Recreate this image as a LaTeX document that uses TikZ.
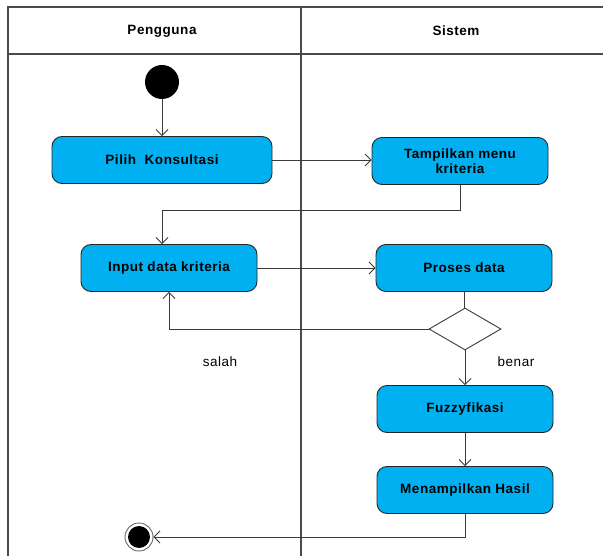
\documentclass[tikz,border=0pt]{standalone}
\usepackage{fontspec}
\setmainfont{Liberation Sans}
\newfontfamily\umlfont[LetterSpace=4]{Liberation Sans}
\usetikzlibrary{arrows.meta,positioning,shapes.geometric}
\definecolor{actfill}{HTML}{00B0F0}
\definecolor{edge}{HTML}{3A3A3A}
\definecolor{lane}{HTML}{4A4A4A}
\tikzset{
  act/.style={draw=black!85, fill=actfill, rounded corners=10pt, align=center,
              line width=0.9pt, minimum width=176pt, minimum height=47pt,
              font=\umlfont\fontsize{13.5}{15}\selectfont\bfseries},
  flow/.style={-{Straight Barb[length=6pt, width=12pt]}, line width=0.9pt, edge},
  lbl/.style={font=\umlfont\fontsize{13.5}{15}\selectfont},
  head/.style={font=\umlfont\fontsize{13.5}{15}\selectfont\bfseries},
}

\begin{document}
\begin{tikzpicture}[x=1pt, y=-1pt]
        \useasboundingbox (0,0) rectangle (603,556);
        % swimlanes
        \draw[lane, line width=1.1pt] (8,556) -- (8,7) -- (603,7);
        \draw[lane, line width=1.1pt] (8,54) -- (603,54);
        \draw[lane, line width=1.1pt] (301,7) -- (301,556);
        \node[head] (pengguna) at (162,31) {Pengguna};
        \node[head] (sistem) at (456,31) {Sistem};
        % states
        \node[circle, fill=black, minimum size=34pt, inner sep=0pt] (start) at (162,82) {};
        \node[act, minimum width=220pt] (pilih) at (162,160) {Pilih\ \ Konsultasi};
        \node[act] (tampil) at (460,161) {Tampilkan menu\\kriteria};
        \node[act] (input) at (169,268) {Input data kriteria};
        \node[act] (proses) at (464,268) {Proses data};
        \node[diamond, draw=edge, fill=white, line width=0.9pt, aspect=1.7,
              minimum width=72pt, minimum height=42pt, inner sep=0pt] (cek) at (465,329) {};
        \node[act] (fuzzy) at (465,409) {Fuzzyfikasi};
        \node[act] (hasil) at (465,490) {Menampilkan Hasil};
        \node[circle, draw=black!60, line width=0.9pt, minimum size=28pt, inner sep=0pt,
              path picture={\fill[black] (path picture bounding box.center) circle (11pt);}] (end) at (139,537) {};
        \node[lbl] (salah) at (220,362) {salah};
        \node[lbl] (benar) at (516,362) {benar};
        % transitions
        \coordinate (j1) at (162,210);
        \draw[flow] (start) -- (pilih);
        \draw[flow] (pilih.east) -- (pilih.east -| tampil.west);
        \draw[flow] (tampil.south) |- (j1) -- (j1 |- input.north);
        \draw[flow] (input.east) -- (input.east -| proses.west);
        \draw[flow, -] (proses.south) -- (proses.south |- cek.north);
        \draw[flow] (cek.west) -| (input.south);
        \draw[flow] (cek.south) -- (fuzzy.north);
        \draw[flow] (fuzzy) -- (hasil);
        \draw[flow] (hasil.south) |- (end.east);
      \end{tikzpicture}
\end{document}
